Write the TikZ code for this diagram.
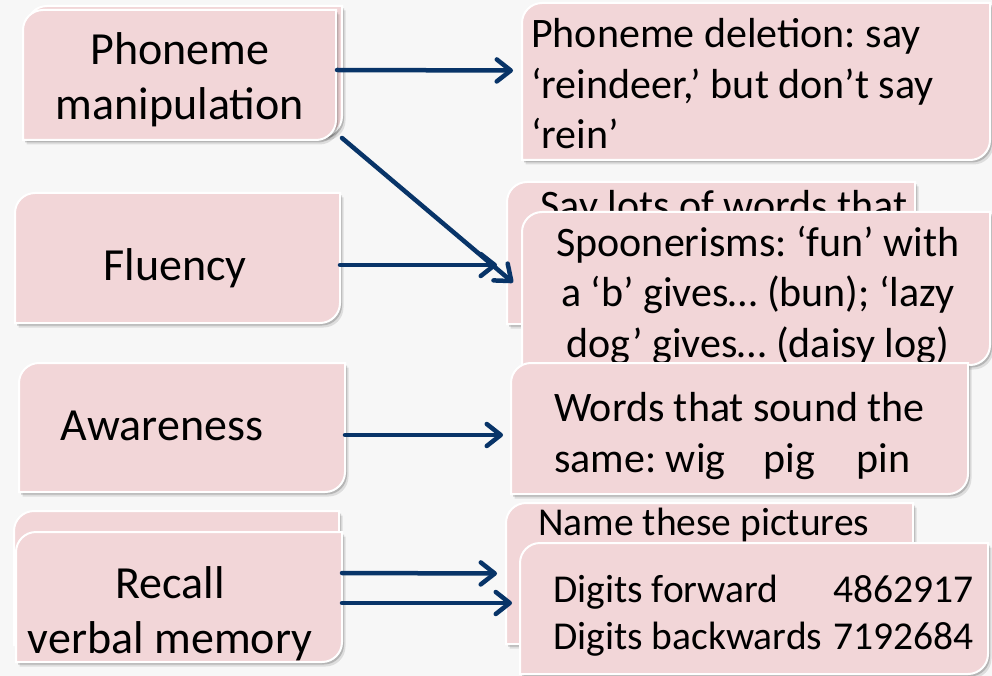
\documentclass[tikz,border=0pt]{standalone}
\usepackage{fontspec}
\setmainfont{Carlito}
\frenchspacing
\usetikzlibrary{arrows.meta,calc}
\definecolor{bgcol}{RGB}{247,247,247}
\definecolor{boxpink}{RGB}{242,214,216}
\definecolor{navy}{RGB}{8,52,104}
\tikzset{
  boxshape/.style={fill=boxpink, draw=white, line width=2pt,
    preaction={fill=black, opacity=0.10, transform canvas={xshift=3.5pt,yshift=-4.5pt}},
    preaction={fill=black, opacity=0.18, transform canvas={xshift=2pt,yshift=-2.5pt}}},
  boxanchor/.style={inner sep=0pt, outer sep=0pt},
  arr/.style={draw=navy, line width=4.5pt, line cap=round,
    -{Straight Barb[length=14pt,width=22pt,round]}},
  bigtxt/.style={font=\fontsize{46}{55}\selectfont, inner sep=0pt, text=black},
  midtxt/.style={font=\fontsize{42}{50.5}\selectfont, inner sep=0pt, text=black},
  smtxt/.style={font=\fontsize{39.5}{47}\selectfont, inner sep=0pt, text=black}
}
% name, x1, y1, x2, y2  (y grows downward)
\newcommand{\dgbox}[5]{%
  \path[boxshape] (#2,#5) -- (#2,#3+20) arc[start angle=180,end angle=270,radius=20]
     -- (#4,#3) -- (#4,#5-20) arc[start angle=0,end angle=90,radius=20] -- cycle;
  \node[boxanchor, minimum width={(#4-#2)*1pt}, minimum height={(#5-#3)*1pt}]
     (#1) at ({(#2+#4)/2},{(#3+#5)/2}) {};
}
\begin{document}
\begin{tikzpicture}[x=1pt,y=-1pt]
\fill[bgcol] (0,0) rectangle (992,676);
\useasboundingbox (0,0) rectangle (992,676);

% ---------- left column ----------
\dgbox{pmB}{27}{6}{342}{136}
\dgbox{pmF}{23}{10}{336}{140}
\node[bigtxt, align=center, anchor=base] (pmT) at (180,120) {Phoneme\\manipulation};

\dgbox{fl}{15}{193}{340}{323}
\node[bigtxt, anchor=base] (flT) at (175,280) {Fluency};

\dgbox{aw}{19}{363}{345}{492}
\node[bigtxt, anchor=base] (awT) at (162,440) {Awareness};

\dgbox{rcB}{14}{511}{339}{645}
\dgbox{rcF}{16}{532}{342}{662}
\node[bigtxt, align=center, anchor=base] (rcT) at (170,653) {Recall\\verbal memory};

% ---------- right column ----------
\dgbox{pd}{522}{3}{990}{160}
\node[midtxt, align=left, anchor=base west] (pdT) at (531,149)
  {Phoneme deletion: say\\‘reindeer,’ but don’t say\\‘rein’};

\dgbox{slB}{507}{182}{915}{324}
\node[midtxt, anchor=base] (slT) at (724,219) {Say lots of words that};
\dgbox{spF}{522}{212}{990}{365}
\node[midtxt, align=center, anchor=base] (spT) at (758,357)
  {Spoonerisms: ‘fun’ with\\a ‘b’ gives… (bun); ‘lazy\\dog’ gives… (daisy log)};

\dgbox{wd}{511}{363}{968}{494}
\node[midtxt, align=left, anchor=base west] (wdT) at (554,472)
  {Words that sound the\\same: wig\hskip 38pt pig\hskip 42pt pin};

\dgbox{ntB}{506}{503}{913}{644}
\node[smtxt, anchor=base west] (ntT) at (538,535) {Name these pictures};
\dgbox{dgF}{520}{543}{988}{674}
\node[smtxt, align=left, anchor=base west] (dgT) at (553,649)
  {\hbox to 420pt{Digits forward\hfill 4862917}\\\hbox to 420pt{Digits backwards\hfill 7192684}};

% ---------- connectors ----------
\draw[arr] ([shift={(1,-5)}]pmF.east) -- ([shift={(-9,-11)}]pd.west);
\draw[arr] ([shift={(6,-2)}]pmF.south east) -- ([shift={(-9,-6)}]spF.west);
\draw[arr] ([shift={(0,7)}]fl.east) -- ([shift={(-10,12)}]slB.west);
\draw[arr] ([shift={(0,7.5)}]aw.east) -- ([shift={(-8,6.5)}]wd.west);
\draw[arr] ([shift={(0,-24)}]rcF.east) -- ([shift={(-9,0)}]ntB.west);
\draw[arr] ([shift={(0,6)}]rcF.east) -- ([shift={(-8,-5.5)}]dgF.west);
\end{tikzpicture}
\end{document}
